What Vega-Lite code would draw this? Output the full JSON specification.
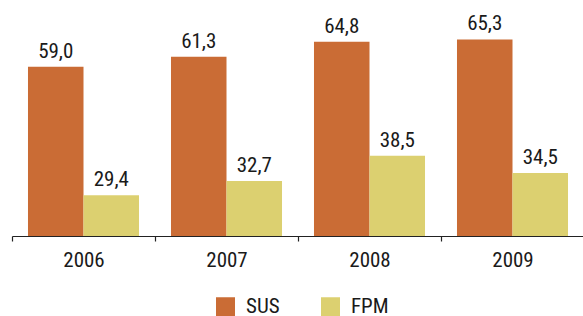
{
  "$schema": "https://vega.github.io/schema/vega-lite/v6.json",
  "width": 572,
  "height": 236,
  "autosize": {"type": "none"},
  "padding": {"left": 12, "top": 0, "right": 0, "bottom": 80},
  "config": {
    "view": {"stroke": null},
    "locale": {"number": {"decimal": ",", "thousands": ".", "grouping": [3], "currency": ["", ""]}},
    "font": "Roboto Condensed, Arial Narrow, Roboto, sans-serif"
  },
  "data": {
    "values": [
      {"year": "2006", "series": "SUS", "value": 59.0},
      {"year": "2006", "series": "FPM", "value": 29.4},
      {"year": "2007", "series": "SUS", "value": 61.3},
      {"year": "2007", "series": "FPM", "value": 32.7},
      {"year": "2008", "series": "SUS", "value": 64.8},
      {"year": "2008", "series": "FPM", "value": 38.5},
      {"year": "2009", "series": "SUS", "value": 65.3},
      {"year": "2009", "series": "FPM", "value": 34.5}
    ]
  },
  "encoding": {
    "x": {
      "field": "year", "type": "nominal",
      "scale": {"paddingInner": 0, "paddingOuter": 0},
      "axis": {
        "title": null, "labelAngle": 0, "tickBand": "extent",
        "domainColor": "#222", "domainWidth": 1.2, "tickColor": "#222", "tickWidth": 1.2, "tickSize": 5,
        "labelFont": "Roboto Condensed, Arial Narrow, Roboto, sans-serif", "labelFontSize": 21, "labelColor": "#1a1a1a", "labelPadding": 8
      }
    },
    "xOffset": {
      "field": "series", "type": "nominal", "sort": ["SUS", "FPM"],
      "scale": {"paddingInner": 0, "paddingOuter": 0.288}
    },
    "y": {
      "field": "value", "type": "quantitative",
      "scale": {"domain": [20, 74.4], "zero": false, "nice": false},
      "axis": null
    }
  },
  "layer": [
    {
      "mark": {"type": "bar"},
      "encoding": {
        "y2": {"datum": 20},
        "color": {
          "field": "series", "type": "nominal", "sort": ["SUS", "FPM"],
          "scale": {"domain": ["SUS", "FPM"], "range": ["#CA6C35", "#DCD070"]},
          "legend": {
            "title": null, "orient": "none", "direction": "horizontal",
            "legendX": 203, "legendY": 296,
            "symbolType": "square", "symbolSize": 361, "symbolStrokeWidth": 0,
            "labelFont": "Roboto Condensed, Arial Narrow, Roboto, sans-serif", "labelFontSize": 21, "labelColor": "#1a1a1a",
            "columnPadding": 40, "labelOffset": 10
          }
        }
      }
    },
    {
      "mark": {"type": "text", "baseline": "alphabetic", "dy": -9, "fontSize": 21, "font": "Roboto Condensed, Arial Narrow, Roboto, sans-serif", "color": "#1a1a1a"},
      "encoding": {
        "text": {"field": "value", "type": "quantitative", "format": ".1f"}
      }
    }
  ]
}
